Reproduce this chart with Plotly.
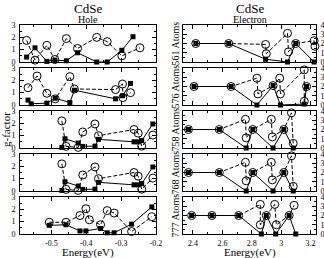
import plotly.graph_objects as go

W, H = 324, 258

# ---------------- data: hole (left column) ----------------
hole561_circ_E = [-0.571, -0.547, -0.513, -0.490, -0.457, -0.425, -0.370, -0.340, -0.298, -0.246]
hole561_circ_g = [1.75, 0.15, 1.35, 0.2, 1.9, 1.1, 2.0, 1.65, 0.5, 1.15]
hole561_sq_E = [-0.571, -0.547, -0.513, -0.490, -0.457, -0.425, -0.370, -0.340, -0.298, -0.266]
hole561_sq_g = [0.4, 1.15, 0.05, 0.15, 0.1, 0.75, 0.0, 0.0, 0.95, 2.05]

hole576_circ_E = [-0.567, -0.541, -0.513, -0.489, -0.447, -0.434, -0.316, -0.296, -0.295, -0.273]
hole576_circ_g = [1.4, 2.35, 0.95, 0.5, 2.3, 1.3, 1.25, 1.7, 0.6, 1.0]
hole576_sq_E = [-0.567, -0.558, -0.513, -0.489, -0.447, -0.434, -0.316, -0.296, -0.273]
hole576_sq_g = [0.4, 0.1, 0.15, 0.55, 0.2, 1.2, 0.5, 0.75, 1.75]

hole758_circ_E = [-0.470, -0.458, -0.423, -0.410, -0.375, -0.365, -0.263, -0.251, -0.241, -0.209]
hole758_circ_g = [2.2, 0.13, 0.05, 1.3, 1.95, 1.0, 1.5, 1.2, 0.15, 1.05]
hole758_sq_E = [-0.470, -0.461, -0.423, -0.410, -0.375, -0.365, -0.263, -0.251, -0.241, -0.209]
hole758_sq_g = [0.05, 0.75, 0.4, 0.13, 0.15, 0.7, 0.5, 0.5, 0.6, 1.95]

hole768_circ_E = [-0.470, -0.458, -0.423, -0.410, -0.375, -0.365, -0.263, -0.251, -0.241, -0.209]
hole768_circ_g = [2.2, 0.13, 0.05, 1.3, 1.95, 1.0, 1.5, 1.2, 0.15, 1.05]
hole768_sq_E = [-0.470, -0.461, -0.423, -0.410, -0.375, -0.365, -0.263, -0.251, -0.241, -0.209]
hole768_sq_g = [0.05, 0.75, 0.4, 0.13, 0.15, 0.7, 0.5, 0.5, 0.6, 1.95]

hole777_circ_E = [-0.506, -0.458, -0.418, -0.401, -0.391, -0.359, -0.340, -0.320, -0.270, -0.212]
hole777_circ_g = [0.95, 0.95, 1.5, 2.05, 1.15, 0.75, 1.9, 1.7, 0.2, 1.4]
hole777_sq_E = [-0.506, -0.458, -0.418, -0.401, -0.359, -0.340, -0.320, -0.270, -0.212]
hole777_sq_g = [0.7, 0.75, 0.25, 0.25, 0.45, 0.1, 0.1, 0.8, 2.2]

# ---------------- data: electron (right column) ----------------
elec561_circ_E = [2.419, 2.643, 2.894, 2.899, 3.043, 3.050, 3.099, 3.224, 3.230]
elec561_circ_g = [2.0, 2.0, 1.9, 0.9, 3.1, 1.1, 2.0, 2.3, 1.7]
elec561_sq_E = [2.419, 2.643, 2.894, 3.043, 3.099, 3.224]
elec561_sq_g = [2.0, 2.0, 0.3, 0.0, 2.0, 0.0]

elec576_circ_E = [2.407, 2.659, 2.835, 2.842, 2.945, 2.990, 2.995, 3.157, 3.157, 3.173]
elec576_circ_g = [2.0, 2.0, 2.9, 1.2, 2.1, 2.9, 1.2, 3.8, 0.4, 2.0]
elec576_sq_E = [2.407, 2.659, 2.835, 2.945, 2.995, 3.157, 3.173]
elec576_sq_g = [2.0, 2.0, 0.0, 2.1, 0.0, 0.1, 2.0]

elec758_circ_E = [2.369, 2.579, 2.757, 2.762, 2.807, 2.933, 2.940, 3.018, 3.070, 3.082]
elec758_circ_g = [2.0, 2.0, 3.1, 1.1, 2.0, 3.1, 1.2, 2.0, 3.8, 0.5]
elec758_sq_E = [2.369, 2.579, 2.762, 2.807, 2.945, 3.018, 3.082]
elec758_sq_g = [2.0, 2.0, 0.0, 2.0, 0.0, 2.0, 0.0]

elec768_circ_E = [2.369, 2.579, 2.757, 2.762, 2.807, 2.933, 2.940, 3.018, 3.070, 3.082]
elec768_circ_g = [2.0, 2.0, 3.1, 1.1, 2.0, 3.1, 1.2, 2.0, 3.8, 0.5]
elec768_sq_E = [2.369, 2.579, 2.762, 2.807, 2.945, 3.018, 3.082]
elec768_sq_g = [2.0, 2.0, 0.0, 2.0, 0.0, 2.0, 0.0]

elec777_circ_E = [2.391, 2.529, 2.711, 2.858, 2.858, 2.899, 2.956, 2.967, 3.054, 3.088]
elec777_circ_g = [2.0, 2.0, 2.0, 3.2, 1.0, 2.0, 3.2, 1.0, 2.0, 3.1]
elec777_sq_E = [2.391, 2.529, 2.711, 2.865, 2.899, 2.963, 3.054, 3.099]
elec777_sq_g = [2.0, 2.0, 2.0, 0.0, 2.0, 0.0, 2.0, 0.0]

atom_labels = ["561 Atoms", "576 Atoms", "758 Atoms", "768 Atoms", "777 Atoms"]
hole_xticks = [-0.5, -0.4, -0.3, -0.2]
hole_xticklabels = ["-0.5", "-0.4", "-0.3", "-0.2"]
elec_xticks = [2.4, 2.6, 2.8, 3.0, 3.2]
elec_xticklabels = ["2.4", "2.6", "2.8", "3", "3.2"]

hole_panels = [
    (hole561_circ_E, hole561_circ_g, hole561_sq_E, hole561_sq_g),
    (hole576_circ_E, hole576_circ_g, hole576_sq_E, hole576_sq_g),
    (hole758_circ_E, hole758_circ_g, hole758_sq_E, hole758_sq_g),
    (hole768_circ_E, hole768_circ_g, hole768_sq_E, hole768_sq_g),
    (hole777_circ_E, hole777_circ_g, hole777_sq_E, hole777_sq_g),
]
elec_panels = [
    (elec561_circ_E, elec561_circ_g, elec561_sq_E, elec561_sq_g),
    (elec576_circ_E, elec576_circ_g, elec576_sq_E, elec576_sq_g),
    (elec758_circ_E, elec758_circ_g, elec758_sq_E, elec758_sq_g),
    (elec768_circ_E, elec768_circ_g, elec768_sq_E, elec768_sq_g),
    (elec777_circ_E, elec777_circ_g, elec777_sq_E, elec777_sq_g),
]

FONT = "Liberation Serif"
fig = go.Figure()

LEFT_DOM = [20 / W, 156 / W]
RIGHT_DOM = [183 / W, 316 / W]
TOP0, PITCH, PH = 25, 43, 37


def ydom(i):
    top = TOP0 + PITCH * i
    bot = top + PH
    return [1 - bot / H, 1 - top / H]


layout = {}
n = 0
for col in range(2):
    panels = hole_panels if col == 0 else elec_panels
    for i, (cE, cg, sE, sg) in enumerate(panels):
        n += 1
        xa = "x" if n == 1 else f"x{n}"
        ya = "y" if n == 1 else f"y{n}"
        fig.add_trace(go.Scatter(
            x=cE, y=cg, xaxis=xa, yaxis=ya, mode="lines+markers",
            line=dict(color="black", width=1, dash="4px,2px"),
            marker=dict(symbol="circle-open", size=8, color="black", line=dict(width=1, color="black")),
            cliponaxis=False, showlegend=False, hoverinfo="skip"))
        fig.add_trace(go.Scatter(
            x=sE, y=sg, xaxis=xa, yaxis=ya, mode="lines+markers",
            line=dict(color="black", width=1),
            marker=dict(symbol="square", size=5, color="black"),
            cliponaxis=False, showlegend=False, hoverinfo="skip"))
        xkey = "xaxis" if n == 1 else f"xaxis{n}"
        ykey = "yaxis" if n == 1 else f"yaxis{n}"
        common = dict(showline=True, linecolor="black", linewidth=1, mirror="ticks",
                      ticks="inside", ticklen=4, tickwidth=1, tickcolor="black",
                      showgrid=False, zeroline=False, fixedrange=True,
                      tickfont=dict(family=FONT, size=8, color="black"))
        if col == 0:
            xax = dict(domain=LEFT_DOM, range=[-0.59, -0.2], tickvals=hole_xticks,
                       ticktext=hole_xticklabels, ticklabelstandoff=1,
                       minor=dict(ticks="inside", ticklen=2, dtick=0.05, tick0=-0.6, tickcolor="black"),
                       showticklabels=(i == 4), anchor=ya, **common)
            yax = dict(domain=ydom(i), range=[0, 3], tickvals=[0, 1, 2, 3], side="left",
                       minor=dict(ticks="inside", ticklen=2, dtick=0.5, tickcolor="black"),
                       anchor=xa, ticklabelstandoff=2, **common)
        else:
            xax = dict(domain=RIGHT_DOM, range=[2.332, 3.237], tickvals=elec_xticks,
                       ticktext=elec_xticklabels, ticklabelstandoff=1,
                       minor=dict(ticks="inside", ticklen=2, dtick=0.1, tick0=2.0, tickcolor="black"),
                       showticklabels=(i == 4), anchor=ya, **common)
            yax = dict(domain=ydom(i), range=[0, 4], tickvals=[0, 1, 2, 3, 4], side="right",
                       minor=dict(ticks="inside", ticklen=2, dtick=0.5, tickcolor="black"),
                       anchor=xa, ticklabelstandoff=2, **common)
        layout[xkey] = xax
        layout[ykey] = yax

annotations = []


def ann(text, xpx, ypx, size, angle=0):
    annotations.append(dict(text=text, x=xpx / W, y=1 - ypx / H, xref="paper", yref="paper",
                            showarrow=False, textangle=angle, xanchor="center", yanchor="middle",
                            font=dict(family=FONT, size=size, color="black")))


ann("CdSe", 88, 8, 13)
ann("Hole", 88, 19, 10)
ann("CdSe", 250, 8, 13)
ann("Electron", 250, 19, 10)
ann("g-factor", 6, 130, 11, -90)
ann("Energy(eV)", 88, 252, 11)
ann("Energy(eV)", 250, 252, 11)
for i, lab in enumerate(atom_labels):
    top = TOP0 + PITCH * i
    ann(lab, 175, top + PH / 2, 10, -90)

fig.update_layout(width=W, height=H, margin=dict(l=0, r=0, t=0, b=0),
                  template="none", font=dict(family=FONT, color="black"),
                  paper_bgcolor="white", plot_bgcolor="white", hovermode=False,
                  annotations=annotations, **layout)

fig.write_html("out.html", config={"displayModeBar": False, "staticPlot": True},
               post_script="document.body.style.margin='0px';")
